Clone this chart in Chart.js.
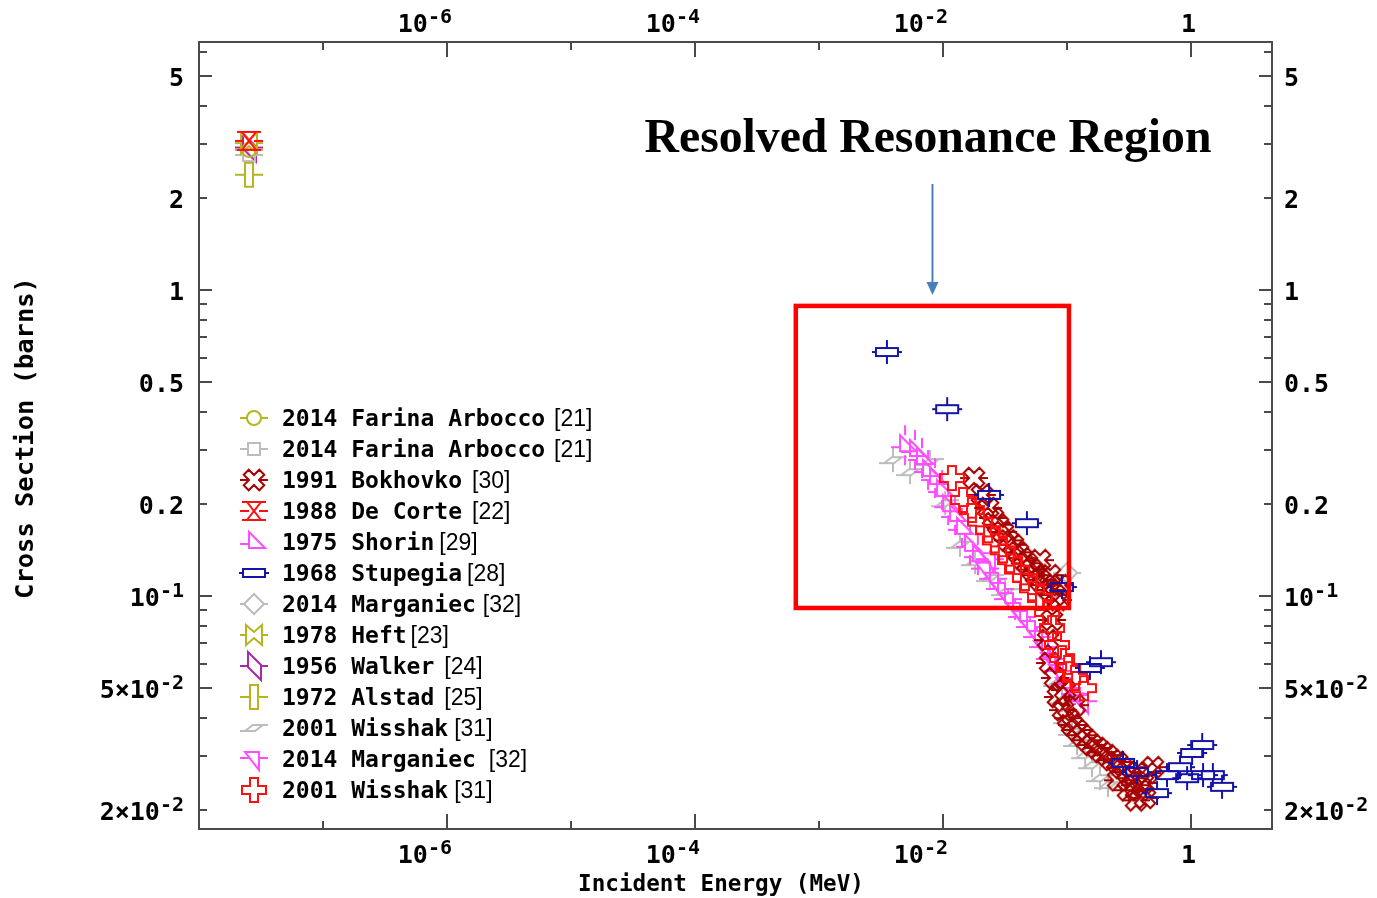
<!DOCTYPE html>
<html>
<head>
<meta charset="utf-8">
<title>Cross Section vs Incident Energy</title>
<script src="https://cdn.jsdelivr.net/npm/chart.js@4.4.1/dist/chart.umd.min.js"></script>
<style>
  html, body { margin: 0; padding: 0; background: #ffffff; }
  canvas { display: block; }
</style>
</head>
<body>
<canvas id="xsChart" width="1377" height="898"></canvas>
<script>
// ==================== DATA (energy in MeV, cross section in barns) ====================
const THERMAL = 2.53e-8;

const farinaCircE  = [THERMAL];
const farinaCircXS = [2.87];
const farinaSqE    = [THERMAL];
const farinaSqXS   = [2.76];
const deCorteE     = [THERMAL];
const deCorteXS    = [3.07];
const heftE        = [THERMAL];
const heftXS       = [3.02];
const walkerE      = [THERMAL];
const walkerXS     = [2.92];
const alstadE      = [THERMAL];
const alstadXS     = [2.38];

const stupegiaE  = [3.53e-3, 1.08e-2, 2.35e-2, 4.75e-2, 9.1e-2, 0.188, 0.153, 0.283, 0.367,
                    0.532, 0.64, 0.815, 1.02, 1.23, 0.93, 1.25, 1.50, 1.78];
const stupegiaXS = [0.627, 0.408, 0.214, 0.173, 0.107, 0.0608, 0.0582, 0.0285, 0.0266,
                    0.0227, 0.026, 0.0276, 0.0307, 0.0326, 0.0254, 0.026, 0.026, 0.0238];

const bokhovkoE  = [0.0178, 0.0206, 0.0231, 0.0253, 0.0278, 0.0305, 0.0334, 0.0367, 0.0403, 0.0434,
                    0.0475, 0.0522, 0.0562, 0.0605, 0.0665, 0.0730, 0.0800, 0.0845, 0.0605, 0.0730,
                    0.0879, 0.0757, 0.0703, 0.0730, 0.0800, 0.0845, 0.0964, 0.0929, 0.116, 0.102,
                    0.1096, 0.1205, 0.132, 0.145, 0.159, 0.175, 0.191, 0.210, 0.231, 0.253,
                    0.278, 0.305, 0.334, 0.353, 0.388, 0.360, 0.426, 0.442, 0.494, 0.410,
                    0.310, 0.258];
const bokhovkoXS = [0.243, 0.214, 0.194, 0.180, 0.171, 0.162, 0.152, 0.147, 0.139, 0.133,
                    0.128, 0.122, 0.117, 0.113, 0.1086, 0.1047, 0.1008, 0.0970, 0.131, 0.117,
                    0.1086, 0.0835, 0.0718, 0.0604, 0.0540, 0.0468, 0.0493, 0.0424, 0.0440, 0.0399,
                    0.0379, 0.0365, 0.0351, 0.0338, 0.0326, 0.0319, 0.0309, 0.0302, 0.0291, 0.0287,
                    0.0274, 0.0266, 0.0254, 0.0241, 0.0232, 0.0215, 0.0219, 0.0264, 0.0276, 0.0245,
                    0.0232, 0.0250];

const wisshakRedE  = [0.0118, 0.0145, 0.0171, 0.0199, 0.0231, 0.0262, 0.0305, 0.0347, 0.0395, 0.0458,
                      0.0522, 0.0605, 0.069, 0.0757, 0.083, 0.0912, 0.102, 0.116, 0.137];
const wisshakRedXS = [0.243, 0.206, 0.191, 0.175, 0.164, 0.152, 0.141, 0.131, 0.122, 0.1145,
                      0.106, 0.0985, 0.0887, 0.0786, 0.0692, 0.0627, 0.0582, 0.054, 0.050];

const shorinE  = [0.00494, 0.00594, 0.00677, 0.00757, 0.00862, 0.00982, 0.0110, 0.0125, 0.0142, 0.0165, 0.0191];
const shorinXS = [0.311, 0.300, 0.2825, 0.258, 0.243, 0.222, 0.198, 0.184, 0.167, 0.147, 0.136];

const marganiecME  = [0.0218, 0.0239, 0.0253, 0.0288, 0.0334, 0.0381, 0.0434, 0.0503, 0.0573, 0.064,
                      0.073, 0.0845, 0.0964, 0.116, 0.1346];
const marganiecMXS = [0.122, 0.131, 0.113, 0.1047, 0.097, 0.090, 0.0848, 0.0786, 0.0729, 0.0676,
                      0.0618, 0.0565, 0.0512, 0.0475, 0.045];

const marganiecGE  = [0.100, 0.0845, 0.0703];
const marganiecGXS = [0.119, 0.1086, 0.1008];

const wisshakGrayE  = [0.00395, 0.00542, 0.00785, 0.0104, 0.0137, 0.0181, 0.0239, 0.0316, 0.083,
                       0.0912, 0.100, 0.1096, 0.1205, 0.140, 0.159, 0.1845, 0.214];
const wisshakGrayXS = [0.278, 0.254, 0.274, 0.201, 0.147, 0.129, 0.1145, 0.103, 0.052,
                       0.0457, 0.0393, 0.036, 0.0331, 0.0302, 0.028, 0.0254, 0.0241];

// axis ranges and tick labels
const energyRange = [1e-8, 4.5];
const xsRange     = [0.01733, 6.46];
const xTickExps   = [-6, -4, -2, 0];
const yTickValues = [5, 2, 1, 0.5, 0.2, 0.1, 0.05, 0.02];
const yTickBase   = ['5', '2', '1', '0.5', '0.2', '10', '5\u00d710', '2\u00d710'];
const yTickExp    = ['', '', '', '', '', '-1', '-2', '-2'];

// resolved resonance region box + arrow (data coordinates)
const regionE   = [6.5e-4, 0.1037];
const regionXS  = [0.0914, 0.887];
const arrowE    = 8.15e-3;
const arrowXS   = [2.22, 0.963];

// ==================== STYLE ====================
const MONO = '"DejaVu Sans Mono", "Liberation Mono", monospace';
const SANS = '"Liberation Sans", Arial, sans-serif';
const SERIF = '"Liberation Serif", "DejaVu Serif", serif';
const AXIS_COLOR = '#4a4a4a';

const C = {
    olive: '#b5b51f',
    gray: '#bcbcbc',
    darkred: '#a80000',
    red: '#ff1010',
    magenta: '#ff4dff',
    blue: '#1414aa',
    purple: '#a82aa8',
};

// legend order; z = draw order (lower on top)
const series = [
    { label: '2014 Farina Arbocco', ref: '[21]', shape: 'circle',  color: C.olive,   e: farinaCircE,  s: farinaCircXS,  err: 0,  z: 6 },
    { label: '2014 Farina Arbocco', ref: '[21]', shape: 'square',  color: C.gray,    e: farinaSqE,    s: farinaSqXS,    err: 0,  z: 7 },
    { label: '1991 Bokhovko',       ref: '[30]', shape: 'xcross',  color: C.darkred, e: bokhovkoE,    s: bokhovkoXS,    err: 0,  z: 4 },
    { label: '1988 De Corte',       ref: '[22]', shape: 'hourglass', color: C.red,   e: deCorteE,     s: deCorteXS,     err: 0,  z: 3 },
    { label: '1975 Shorin',         ref: '[29]', shape: 'tri',     color: C.magenta, e: shorinE,      s: shorinXS,      err: 20, z: 10 },
    { label: '1968 Stupegia',       ref: '[28]', shape: 'rectw',   color: C.blue,    e: stupegiaE,    s: stupegiaXS,    err: 12, z: 1 },
    { label: '2014 Marganiec',      ref: '[32]', shape: 'diamond', color: C.gray,    e: marganiecGE,  s: marganiecGXS,  err: 0,  z: 11 },
    { label: '1978 Heft',           ref: '[23]', shape: 'bowtie',  color: C.olive,   e: heftE,        s: heftXS,        err: 0,  z: 5 },
    { label: '1956 Walker',         ref: '[24]', shape: 'vpara',   color: C.purple,  e: walkerE,      s: walkerXS,      err: 0,  z: 13 },
    { label: '1972 Alstad',         ref: '[25]', shape: 'rectt',   color: C.olive,   e: alstadE,      s: alstadXS,      err: 0,  z: 8 },
    { label: '2001 Wisshak',        ref: '[31]', shape: 'zpara',   color: C.gray,    e: wisshakGrayE, s: wisshakGrayXS, err: 12, z: 12 },
    { label: '2014 Marganiec',      ref: '[32]', shape: 'tridown', color: C.magenta, e: marganiecME,  s: marganiecMXS,  err: 10, z: 9 },
    { label: '2001 Wisshak',        ref: '[31]', shape: 'plus',    color: C.red,     e: wisshakRedE,  s: wisshakRedXS,  err: 0,  z: 2 },
];
const refGap = [9, 9, 10, 10, 5, 5, 7, 4, 10, 10, 6, 13, 6];

// ==================== MARKERS ====================
function seg(g, x1, y1, x2, y2) { g.moveTo(x1, y1); g.lineTo(x2, y2); }
function poly(g, pts) {
    g.moveTo(pts[0][0], pts[0][1]);
    for (let i = 1; i < pts.length; i++) g.lineTo(pts[i][0], pts[i][1]);
    g.closePath();
}

// half height of each shape body, used to stop error bars at its edge
const shapeHalf = { circle: 7, square: 6, xcross: 10, hourglass: 9, tri: 10, rectw: 4, diamond: 10,
                    bowtie: 10, vpara: 13, rectt: 12, zpara: 4, tridown: 8, plus: 12 };

function traceShape(g, kind) {
    g.beginPath();
    switch (kind) {
        case 'circle':
            g.arc(0, 0, 7, 0, Math.PI * 2);
            seg(g, -14, 0, -7, 0); seg(g, 7, 0, 14, 0);
            break;
        case 'square':
            g.rect(-6, -6, 12, 12);
            seg(g, -14, 0, -6, 0); seg(g, 6, 0, 14, 0);
            break;
        case 'plus': {
            const a = 4, L = 12;
            poly(g, [[-a, -L], [a, -L], [a, -a], [L, -a], [L, a], [a, a], [a, L], [-a, L], [-a, a], [-L, a], [-L, -a], [-a, -a]]);
            break;
        }
        case 'xcross': {
            const a = 3.5, L = 11;
            g.rotate(Math.PI / 4);
            poly(g, [[-a, -L], [a, -L], [a, -a], [L, -a], [L, a], [a, a], [a, L], [-a, L], [-a, a], [-L, a], [-L, -a], [-a, -a]]);
            g.rotate(-Math.PI / 4);
            seg(g, -14, 0, -5, 0); seg(g, 5, 0, 14, 0);
            break;
        }
        case 'hourglass':
            seg(g, -12, -9, 12, -9); seg(g, -12, 9, 12, 9);
            g.moveTo(-7, -9); g.lineTo(0, 0); g.lineTo(7, -9);
            g.moveTo(-7, 9); g.lineTo(0, 0); g.lineTo(7, 9);
            seg(g, -14, 0, -5, 0); seg(g, 5, 0, 14, 0);
            break;
        case 'tri':
            poly(g, [[-5, -10], [-5, 6], [11, 6]]);
            seg(g, -14, 2, -5, 2);
            break;
        case 'tridown':
            poly(g, [[-9, -7], [5, -7], [5, 11]]);
            seg(g, -14, -1, -4, -1); seg(g, 5, -1, 14, -1);
            break;
        case 'rectw':
            g.rect(-11, -4, 22, 8);
            seg(g, -15, 0, -11, 0); seg(g, 11, 0, 15, 0);
            break;
        case 'rectt':
            g.rect(-4, -12, 8, 24);
            seg(g, -14, 0, -4, 0); seg(g, 4, 0, 14, 0);
            break;
        case 'diamond':
            poly(g, [[0, -10], [10, 0], [0, 10], [-10, 0]]);
            seg(g, -14, 0, -10, 0); seg(g, 10, 0, 14, 0);
            break;
        case 'bowtie':
            poly(g, [[-8, -10], [0, -3], [8, -10], [8, 10], [0, 3], [-8, 10]]);
            seg(g, -14, 0, -8, 0); seg(g, 8, 0, 14, 0);
            break;
        case 'vpara':
            poly(g, [[-6, -14], [7, -1], [7, 14], [-6, 1]]);
            seg(g, -14, 0, -6, 0); seg(g, 7, 0, 14, 0);
            break;
        case 'zpara':
            poly(g, [[-9, 3], [-1, -3], [9, -3], [1, 3]]);
            seg(g, -14, 3, -9, 3); seg(g, 9, -3, 14, -3);
            break;
    }
}

function markerImage(kind, color, err) {
    const w = 40;
    const h = Math.max(40, err * 2 + 8);
    const c = document.createElement('canvas');
    c.width = w; c.height = h;
    const g = c.getContext('2d');
    g.translate(w / 2, h / 2);
    g.strokeStyle = color;
    g.lineWidth = 2;
    traceShape(g, kind);
    if (err > shapeHalf[kind]) {
        seg(g, 0, -err, 0, -shapeHalf[kind]);
        seg(g, 0, shapeHalf[kind], 0, err);
    }
    g.stroke();
    return c;
}

// ==================== TEXT HELPERS ====================
function drawPow(ctx, base, exp, x, y, align) {
    ctx.font = `bold 25px ${MONO}`;
    const wb = ctx.measureText(base).width;
    ctx.font = `bold 20px ${MONO}`;
    const we = exp ? ctx.measureText(exp).width : 0;
    const total = wb + we;
    const left = align === 'right' ? x - total : x;
    ctx.textAlign = 'left';
    ctx.textBaseline = 'alphabetic';
    ctx.font = `bold 25px ${MONO}`;
    ctx.fillText(base, left, y);
    if (exp) {
        ctx.font = `bold 20px ${MONO}`;
        ctx.fillText(exp, left + wb, y - 9);
    }
}

function fitSize(ctx, text, weight, family, target, guess) {
    ctx.font = `${weight} ${guess}px ${family}`;
    return guess * target / ctx.measureText(text).width;
}

// ==================== FRAME, TICKS, LABELS ====================
function drawAxes(chart) {
    const { ctx, chartArea: a, scales: { x, y } } = chart;
    ctx.save();
    ctx.strokeStyle = AXIS_COLOR;
    ctx.lineWidth = 2;
    ctx.strokeRect(a.left, a.top, a.right - a.left, a.bottom - a.top);

    ctx.beginPath();
    for (let k = -7; k <= 0; k++) {
        const px = Math.round(x.getPixelForValue(Math.pow(10, k)));
        const len = k % 2 === 0 ? 15 : 8;
        seg(ctx, px, a.bottom, px, a.bottom - len);
        seg(ctx, px, a.top, px, a.top + len);
    }
    for (let d = -2; d <= 0; d++) {
        for (let m = 1; m <= 9; m++) {
            const v = m * Math.pow(10, d);
            if (v <= y.min || v >= y.max) continue;
            const py = Math.round(y.getPixelForValue(v));
            const len = (m === 1 || m === 5) ? 13 : 8;
            seg(ctx, a.left, py, a.left + len, py);
            seg(ctx, a.right, py, a.right - len, py);
        }
    }
    ctx.stroke();

    ctx.fillStyle = '#000';
    xTickExps.forEach(k => {
        const px = x.getPixelForValue(Math.pow(10, k));
        const base = k === 0 ? '1' : '10';
        const exp = k === 0 ? '' : String(k);
        drawPow(ctx, base, exp, px + 5, 863, 'right');
        drawPow(ctx, base, exp, px + 5, 32, 'right');
    });
    yTickValues.forEach((v, i) => {
        const py = y.getPixelForValue(v);
        drawPow(ctx, yTickBase[i], yTickExp[i], 184, py + 10, 'right');
        drawPow(ctx, yTickBase[i], yTickExp[i], 1284, py + 10, 'left');
    });

    // axis titles
    const xt = 'Incident Energy (MeV)';
    ctx.font = `bold ${fitSize(ctx, xt, 'bold', MONO, 286, 23)}px ${MONO}`;
    ctx.textAlign = 'center';
    ctx.fillText(xt, 721, 891);

    const yt = 'Cross Section (barns)';
    const ys = fitSize(ctx, yt, 'bold', MONO, 322, 23);
    ctx.translate(33, 438);
    ctx.rotate(-Math.PI / 2);
    ctx.font = `bold ${ys}px ${MONO}`;
    ctx.fillText(yt, 0, 0);
    ctx.restore();
}

// ==================== ANNOTATION + LEGEND ====================
function drawOverlay(chart) {
    const { ctx, scales: { x, y } } = chart;
    ctx.save();

    // resonance region box
    const bx0 = x.getPixelForValue(regionE[0]), bx1 = x.getPixelForValue(regionE[1]);
    const by0 = y.getPixelForValue(regionXS[1]), by1 = y.getPixelForValue(regionXS[0]);
    ctx.strokeStyle = '#ff0000';
    ctx.lineWidth = 4.5;
    ctx.strokeRect(bx0, by0, bx1 - bx0, by1 - by0);

    // arrow
    const ax = Math.round(x.getPixelForValue(arrowE)) + 0.5;
    const ay0 = y.getPixelForValue(arrowXS[0]), ay1 = y.getPixelForValue(arrowXS[1]);
    ctx.strokeStyle = '#4a7ebb';
    ctx.fillStyle = '#4a7ebb';
    ctx.lineWidth = 2;
    ctx.beginPath();
    seg(ctx, ax, ay0, ax, ay1 - 12);
    ctx.stroke();
    ctx.beginPath();
    ctx.moveTo(ax - 6, ay1 - 13); ctx.lineTo(ax + 6, ay1 - 13); ctx.lineTo(ax, ay1);
    ctx.closePath();
    ctx.fill();

    // title
    const title = 'Resolved Resonance Region';
    const ts = fitSize(ctx, title, 'bold', SERIF, 567, 44);
    ctx.font = `bold ${ts}px ${SERIF}`;
    ctx.fillStyle = '#000';
    ctx.textAlign = 'center';
    ctx.textBaseline = 'alphabetic';
    ctx.fillText(title, 928, 152);

    // legend
    series.forEach((s, i) => {
        const cy = 418 + i * 31;
        ctx.save();
        ctx.translate(254, cy);
        ctx.strokeStyle = s.color;
        ctx.lineWidth = 2;
        traceShape(ctx, s.shape);
        ctx.stroke();
        ctx.restore();

        ctx.fillStyle = '#000';
        ctx.textAlign = 'left';
        ctx.font = `bold 23px ${MONO}`;
        ctx.fillText(s.label, 282, cy + 8);
        const w = ctx.measureText(s.label).width;
        ctx.font = `23px ${SANS}`;
        ctx.fillText(s.ref, 282 + w + refGap[i], cy + 8);
    });
    ctx.restore();
}

const decorPlugin = {
    id: 'decor',
    beforeDatasetsDraw(chart) { drawAxes(chart); },
    afterDatasetsDraw(chart) { drawOverlay(chart); },
};

// ==================== CHART ====================
new Chart(document.getElementById('xsChart'), {
    type: 'scatter',
    data: {
        datasets: series.map(s => ({
            label: s.label,
            data: s.e.map((e, i) => ({ x: e, y: s.s[i] })),
            order: s.z,
            pointStyle: markerImage(s.shape, s.color, s.err),
            pointRadius: 3,
            showLine: false,
        })),
    },
    options: {
        responsive: false,
        animation: false,
        events: [],
        layout: { padding: { left: 199, right: 105, top: 42, bottom: 69 } },
        scales: {
            x: { type: 'logarithmic', min: energyRange[0], max: energyRange[1], display: false },
            y: { type: 'logarithmic', min: xsRange[0], max: xsRange[1], display: false },
        },
        plugins: {
            legend: { display: false },
            tooltip: { enabled: false },
        },
    },
    plugins: [decorPlugin],
});
</script>
</body>
</html>
